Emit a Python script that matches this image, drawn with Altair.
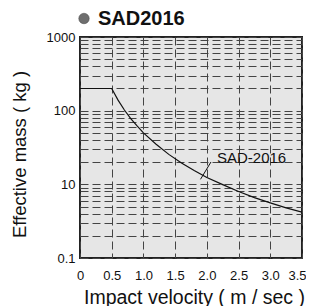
import altair as alt
import pandas as pd

velocity = [0.0, 0.5, 0.6, 0.7, 0.8, 0.9, 1.0, 1.2, 1.4, 1.6, 1.8, 2.0, 2.25, 2.5, 2.75, 3.0, 3.25, 3.5]
mass = [200, 200, 139, 102, 78, 62, 50, 35, 25.5, 19.5, 15.4, 12.4, 9.9, 8.0, 6.6, 5.6, 4.8, 4.2]

x_ticks = [0, 0.5, 1.0, 1.5, 2.0, 2.5, 3.0, 3.5]
y_grid = [m * d for d in [1, 10, 100] for m in range(1, 10)] + [1000]

title_text = ["SAD2016"]

label_text = ["SAD-2016"]
label_v = [2.16]
label_m = [19.5]

leader_v = [1.90, 2.065]
leader_m = [11.7, 20.1]

df = pd.DataFrame({"v": velocity, "m": mass})

W, H = 222, 221

xscale = alt.Scale(domain=[0, 3.5], nice=False, zero=False)
yscale = alt.Scale(type="log", domain=[1, 1000], nice=False)

label_expr = ("datum.value == 1000 ? '1000' : datum.value == 100 ? '100' : "
              "datum.value == 10 ? '10' : datum.value == 1 ? '0.1' : ''")

FONT = "Liberation Sans"

xaxis = alt.Axis(values=x_ticks,
                 labelExpr="datum.value == 0 ? '0' : format(datum.value, '.1f')",
                 title="Impact velocity ( m / sec )", titleFontSize=19.5, titleFontWeight="normal",
                 titleFont=FONT, titleColor="#111", titleX=114, titleY=45,
                 titleAlign="center", titleBaseline="alphabetic",
                 labelFont=FONT, labelFontSize=13, labelColor="#111", labelPadding=11,
                 labelOverlap=False, labelFlush=False, labelBound=False,
                 labelOffset={"condition": {"test": "datum.value == 3.5", "value": -5}, "value": 0},
                 ticks=False, domain=False, grid=True, gridDash=[8, 4], gridColor="#444",
                 gridWidth=1)
yaxis = alt.Axis(values=y_grid, labelExpr=label_expr,
                 title="Effective mass ( kg )", titleFontSize=18.5, titleFontWeight="normal",
                 titleFont=FONT, titleColor="#111", titleX=-61, titleY=117,
                 titleAngle=-90, titleAlign="center", titleBaseline="middle",
                 labelFont=FONT, labelFontSize=13, labelColor="#111", labelPadding=5,
                 labelOverlap=False, labelFlush=False, labelBaseline="middle",
                 ticks=False, domain=False, grid=True, gridDash=[8, 4], gridColor="#444",
                 gridWidth=1)

line = alt.Chart(df).mark_line(color="#111111", strokeWidth=1.2, clip=True).encode(
    x=alt.X("v:Q", scale=xscale, axis=xaxis),
    y=alt.Y("m:Q", scale=yscale, axis=yaxis),
)

ldf = pd.DataFrame({"v": leader_v, "m": leader_m})
leader = alt.Chart(ldf).mark_line(color="#111111", strokeWidth=1).encode(
    x=alt.X("v:Q", scale=xscale, axis=xaxis), y=alt.Y("m:Q", scale=yscale, axis=yaxis)
)

tdf = pd.DataFrame({"t": label_text, "v": label_v, "m": label_m})
text = alt.Chart(tdf).mark_text(align="left", baseline="alphabetic", font=FONT,
                                fontSize=15, color="#111").encode(
    x=alt.X("v:Q", scale=xscale, axis=xaxis), y=alt.Y("m:Q", scale=yscale, axis=yaxis), text="t:N"
)

bullet = alt.Chart(pd.DataFrame({"a": [0]})).mark_point(
    filled=True, size=110, color="#6e6e6e", opacity=1, clip=False,
    stroke="#444", strokeWidth=0.5
).encode(x=alt.value(4), y=alt.value(-18.5))

title = alt.Chart(pd.DataFrame({"t": title_text})).mark_text(
    align="left", baseline="middle", font=FONT, fontSize=20, fontWeight="bold",
    color="#111", clip=False
).encode(x=alt.value(18), y=alt.value(-18.5), text="t:N")

chart = alt.layer(line, leader, text, bullet, title).properties(
    width=W, height=H,
    autosize=alt.AutoSizeParams(type="none"),
    padding={"left": 72, "top": 29, "right": 4, "bottom": 52},
).configure_view(
    fill="#e6e6e6", stroke="#222", strokeWidth=2
)

chart.save("out.html", embed_options={"renderer": "svg", "actions": False})
